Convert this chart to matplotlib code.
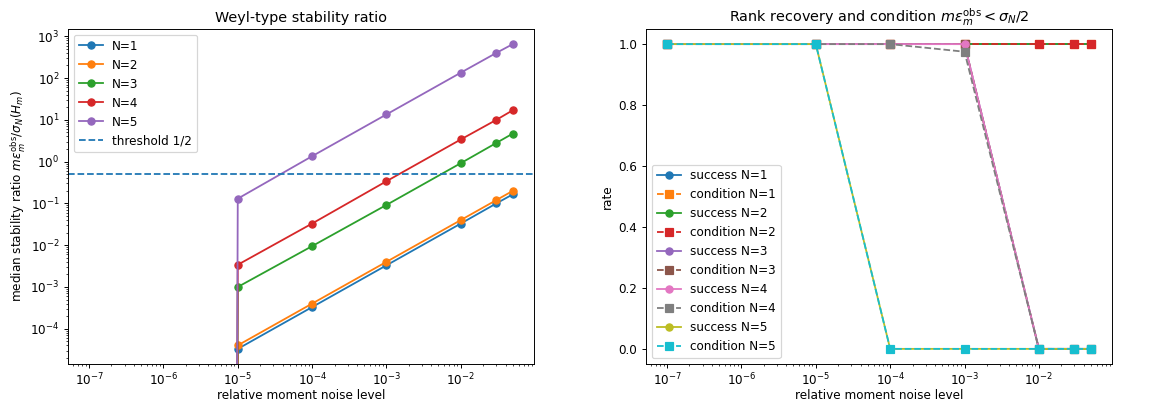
import numpy as np
import matplotlib.pyplot as plt

noise = [1e-7, 1e-5, 1e-4, 1e-3, 1e-2, 3e-2, 5e-2]

# median stability ratio (0 at the smallest noise -> clipped on log axis)
ratio = {
    1: [0.0, 3.3e-5, 3.3e-4, 3.3e-3, 3.3e-2, 0.10, 0.165],
    2: [0.0, 4.0e-5, 4.0e-4, 4.0e-3, 4.0e-2, 0.12, 0.20],
    3: [0.0, 1.0e-3, 9.5e-3, 0.092, 0.92, 2.8, 4.7],
    4: [0.0, 3.4e-3, 0.033, 0.34, 3.4, 10.0, 17.0],
    5: [0.0, 0.13, 1.35, 13.5, 135.0, 400.0, 650.0],
}

success = {
    1: [1, 1, 1, 1, 1, 1, 1],
    2: [1, 1, 1, 1, 1, 1, 1],
    3: [1, 1, 1, 1, 0, 0, 0],
    4: [1, 1, 1, 1, 0, 0, 0],
    5: [1, 1, 0, 0, 0, 0, 0],
}
condition = {
    1: [1, 1, 1, 1, 1, 1, 1],
    2: [1, 1, 1, 1, 1, 1, 1],
    3: [1, 1, 1, 1, 0, 0, 0],
    4: [1, 1, 1, 0.975, 0, 0, 0],
    5: [1, 1, 0, 0, 0, 0, 0],
}

dpi = 86.4
fig, (ax1, ax2) = plt.subplots(1, 2, figsize=(1150 / dpi, 401 / dpi), dpi=dpi)
fig.subplots_adjust(left=0.059, right=0.967, bottom=0.092, top=0.928, wspace=0.24)

for n in range(1, 6):
    ax1.plot(noise, ratio[n], marker='o', label='N=%d' % n)
ax1.axhline(0.5, linestyle='--', label='threshold 1/2')
ax1.set_xscale('log')
ax1.set_yscale('log')
ax1.set_xlabel('relative moment noise level', labelpad=1)
ax1.set_ylabel(r'median stability ratio $m\varepsilon_m^{\rm obs}/\sigma_N(H_m)$', labelpad=2)
ax1.set_title('Weyl-type stability ratio')
ax1.legend(loc='upper left')

for n in range(1, 6):
    ax2.plot(noise, success[n], marker='o', linestyle='-', label='success N=%d' % n)
    ax2.plot(noise, condition[n], marker='s', linestyle='--', label='condition N=%d' % n)
ax2.set_xscale('log')
ax2.set_xlabel('relative moment noise level', labelpad=1)
ax2.set_ylabel('rate')
ax2.set_title(r'Rank recovery and condition $m\varepsilon_m^{\rm obs} < \sigma_N/2$')
ax2.legend(loc='lower left')

for ax in (ax1, ax2):
    ax.tick_params(axis='x', pad=2.5)

plt.savefig('out.png', dpi=dpi)
